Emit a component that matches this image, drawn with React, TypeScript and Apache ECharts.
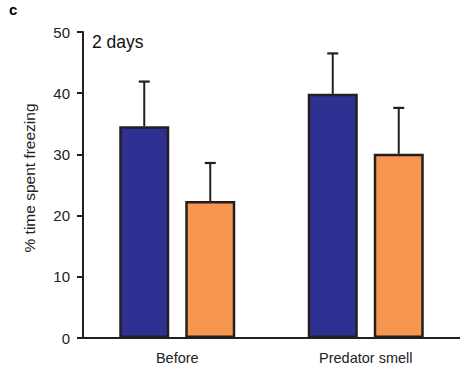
import React, { useEffect, useRef } from "react";
import * as echarts from "echarts";

const categories = ["Before", "Predator smell"];
const blueValues = [34.6, 39.9];
const blueErrors = [41.9, 46.5];
const orangeValues = [22.4, 30.1];
const orangeErrors = [28.6, 37.6];
const yTicks = { min: 0, max: 50, interval: 10 };

const BAR_W = 50;
const GAP = 16;
const INK = "#231f20";

function errorSeries(name: string, values: number[], tops: number[], sign: number) {
  return {
    type: "custom",
    name,
    z: 5,
    data: values.map((v, i) => [i, v, tops[i]]),
    renderItem: (_params: any, api: any) => {
      const idx = api.value(0);
      const base = api.coord([idx, api.value(1)]);
      const top = api.coord([idx, api.value(2)]);
      const x = base[0] + sign * (BAR_W / 2 + GAP / 2);
      return {
        type: "group",
        children: [
          { type: "line", shape: { x1: x, y1: base[1], x2: x, y2: top[1] }, style: { stroke: INK, lineWidth: 2 } },
          { type: "line", shape: { x1: x - 5.5, y1: top[1], x2: x + 5.5, y2: top[1] }, style: { stroke: INK, lineWidth: 2.2 } },
        ],
      };
    },
  };
}

export default function App() {
  const ref = useRef<HTMLDivElement>(null);
  useEffect(() => {
    if (!ref.current) return;
    const chart = echarts.init(ref.current, undefined, { renderer: "svg" });
    chart.setOption({
      animation: false,
      textStyle: { fontFamily: "Liberation Sans" },
      grid: { left: 83, top: 32, width: 378, bottom: 30 },
      xAxis: {
        type: "category",
        data: categories,
        axisLine: { lineStyle: { color: INK, width: 2 } },
        axisTick: { alignWithLabel: true, length: 4, lineStyle: { color: INK, width: 2 } },
        axisLabel: { color: "#222", fontSize: 14.5, margin: 12, fontFamily: "Liberation Sans" },
      },
      yAxis: {
        type: "value",
        min: yTicks.min,
        max: yTicks.max,
        interval: yTicks.interval,
        splitLine: { show: false },
        axisLine: { show: true, lineStyle: { color: INK, width: 2 } },
        axisTick: { show: true, length: 6, lineStyle: { color: INK, width: 2 } },
        axisLabel: { color: "#222", fontSize: 15, margin: 13, fontFamily: "Liberation Sans" },
      },
      series: [
        {
          type: "bar",
          name: "blue",
          data: blueValues,
          barWidth: BAR_W,
          barGap: (GAP / BAR_W) * 100 + "%",
          itemStyle: { color: "#2e3192", borderColor: INK, borderWidth: 2.5 },
        },
        {
          type: "bar",
          name: "orange",
          data: orangeValues,
          barWidth: BAR_W,
          barGap: (GAP / BAR_W) * 100 + "%",
          itemStyle: { color: "#f7964f", borderColor: INK, borderWidth: 2.5 },
        },
        errorSeries("blueErr", blueValues, blueErrors, -1),
        errorSeries("orangeErr", orangeValues, orangeErrors, 1),
      ],
      graphic: [
        { type: "text", left: 9, top: 2, style: { text: "c", fontSize: 15, fontWeight: "bold", fill: "#000", fontFamily: "Liberation Sans" } },
        { type: "text", x: 92, y: 42, style: { text: "2 days", fontSize: 17.5, fill: "#111", verticalAlign: "middle", fontFamily: "Liberation Sans" } },
        {
          type: "text",
          x: 29,
          y: 178,
          rotation: Math.PI / 2,
          style: { text: "% time spent freezing", fontSize: 15.5, fill: "#222", align: "center", verticalAlign: "middle", fontFamily: "Liberation Sans" },
        },
      ],
    });
    return () => chart.dispose();
  }, []);
  return <div ref={ref} style={{ width: 460, height: 368, position: "absolute", left: 0, top: 0 }} />;
}
